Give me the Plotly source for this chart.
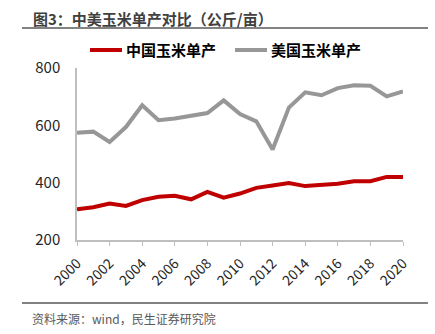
import plotly.graph_objects as go

years = list(range(2000, 2021))
china = [307, 314, 327, 319, 339, 351, 354, 342, 368, 348, 362, 382, 390, 399, 388, 392, 396, 405, 405, 420, 420]
usa = [574, 578, 542, 594, 670, 618, 624, 632, 643, 687, 639, 614, 516, 662, 715, 705, 730, 740, 738, 701, 718]
series_names = ["中国玉米单产", "美国玉米单产"]
series_colors = ["#C00000", "#979797"]
title_text = "图3：中美玉米单产对比（公斤/亩）"
source_text = "资料来源：wind，民生证券研究院"
x_ticks = list(range(2000, 2021, 2))
y_ticks = [200, 400, 600, 800]

W, H = 435, 334
L, R, T, B = 77, 32, 68, 94
pw, ph = W - L - R, H - T - B

def px(x):
    return (x - L) / pw

def py(y):
    return (H - B - y) / ph

FONT = "Noto Sans CJK SC, Noto Sans, DejaVu Sans, sans-serif"

fig = go.Figure()
for name, vals, col in zip(series_names, [china, usa], series_colors):
    fig.add_trace(go.Scatter(x=years, y=vals, mode="lines", name=name,
                             line=dict(color=col, width=4), showlegend=False))

shapes = [
    dict(type="line", xref="paper", yref="paper", x0=px(22), x1=px(428), y0=py(28), y1=py(28),
         line=dict(color="#595959", width=1.5)),
    dict(type="line", xref="paper", yref="paper", x0=px(22), x1=px(428), y0=py(303), y1=py(303),
         line=dict(color="#595959", width=1.5)),
]
annotations = [
    dict(text=title_text, xref="paper", yref="paper", x=px(31), y=py(19),
         xanchor="left", yanchor="middle", showarrow=False,
         font=dict(size=15, color="#404040", family=FONT, weight="bold")),
    dict(text=source_text, xref="paper", yref="paper", x=px(30), y=py(318),
         xanchor="left", yanchor="middle", showarrow=False,
         font=dict(size=12, color="#595959", family=FONT)),
]
# legend drawn by hand
leg_x = [90, 235]
for lx, name, col in zip(leg_x, series_names, series_colors):
    shapes.append(dict(type="line", xref="paper", yref="paper", x0=px(lx), x1=px(lx + 32),
                       y0=py(50), y1=py(50), line=dict(color=col, width=4)))
    annotations.append(dict(text=name, xref="paper", yref="paper", x=px(lx + 34), y=py(49.5),
                            xanchor="left", yanchor="middle", showarrow=False,
                            font=dict(size=15, color="#000000", family=FONT, weight="bold")))

fig.update_layout(
    width=W, height=H,
    margin=dict(l=L, r=R, t=T, b=B, pad=0),
    paper_bgcolor="white", plot_bgcolor="white",
    font=dict(family=FONT, color="#262626"),
    showlegend=False,
    xaxis=dict(range=[2000, 2020], tickvals=x_ticks, ticktext=[str(v) for v in x_ticks],
               tickangle=-45, tickfont=dict(size=14, color="#262626"),
               showline=True, linecolor="#BFBFBF", linewidth=1.5,
               ticks="outside", ticklen=4, tickcolor="#BFBFBF", tickwidth=1,
               ticklabelstandoff=4,
               showgrid=False, zeroline=False, fixedrange=True),
    yaxis=dict(range=[200, 800], tickvals=y_ticks, tickfont=dict(size=15, color="#262626"),
               showline=True, linecolor="#BFBFBF", linewidth=1.5,
               ticks="", showgrid=False, zeroline=False, ticklabelstandoff=12,
               fixedrange=True),
    shapes=shapes,
    annotations=annotations,
)

fig.write_html("out.html")
